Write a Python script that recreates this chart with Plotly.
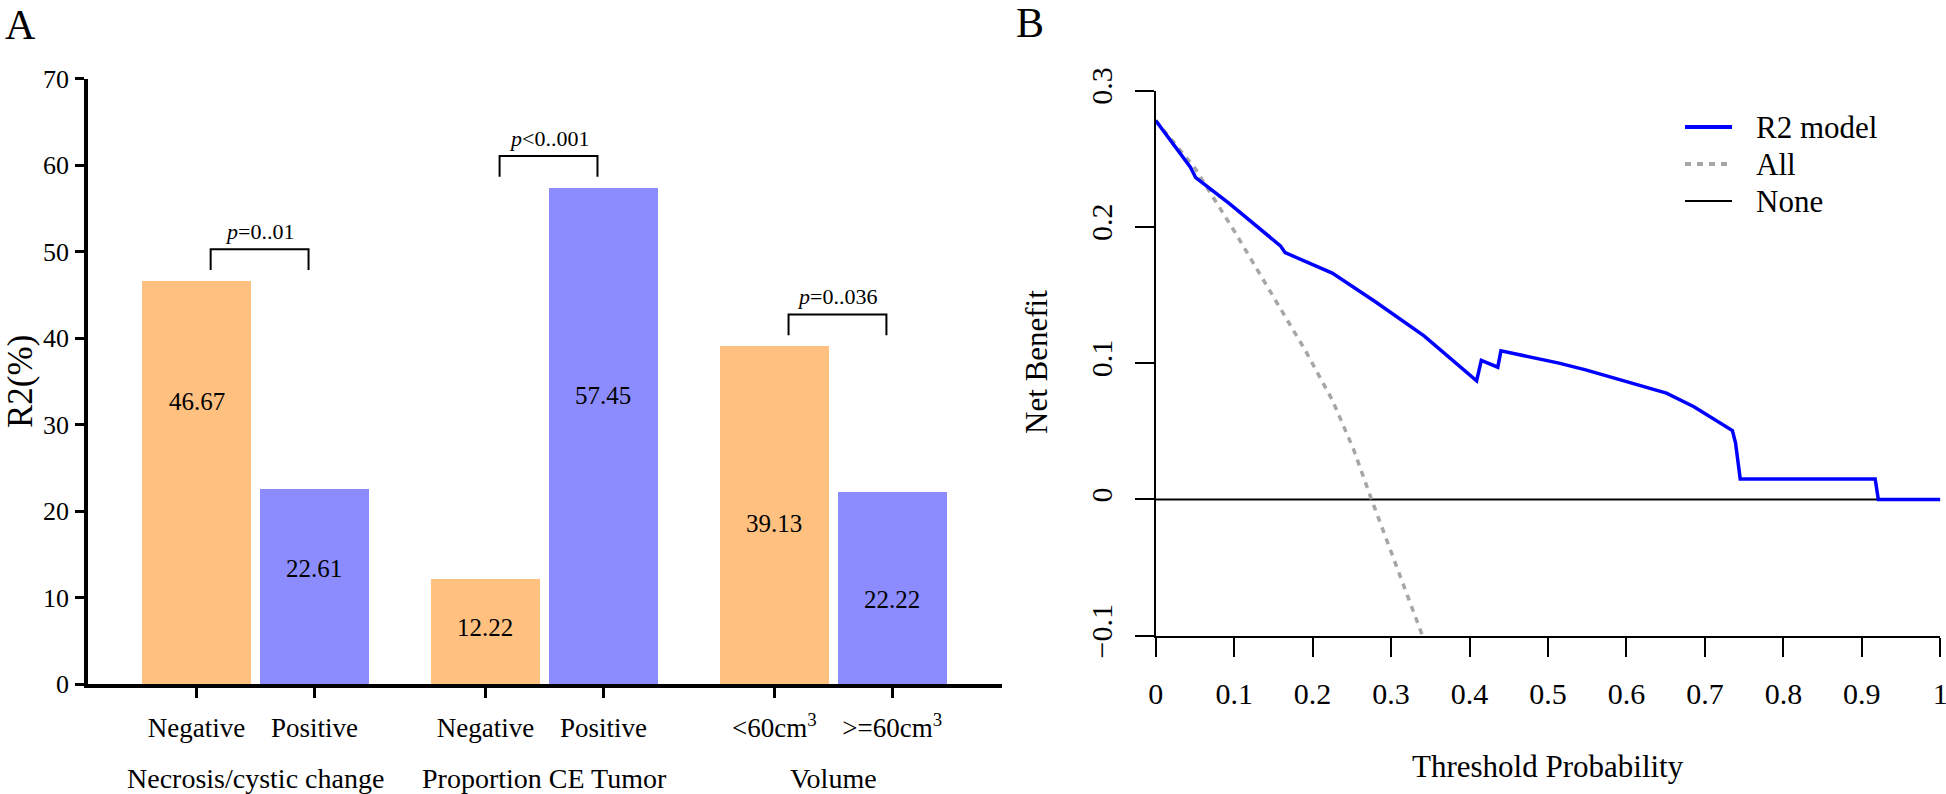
import plotly.graph_objects as go

# ---------------- Panel A data ----------------
groups = ["Necrosis/cystic change", "Proportion CE Tumor", "Volume"]
sub_labels_left = ["Negative", "Negative", "<60cm<sup>3</sup>"]
sub_labels_right = ["Positive", "Positive", ">=60cm<sup>3</sup>"]
values_left = [46.67, 12.22, 39.13]
values_right = [22.61, 57.45, 22.22]
p_texts = ["<i>p</i>=0..01", "<i>p</i><0..001", "<i>p</i>=0..036"]

# ---------------- Panel B data ----------------
r2_x = [0, 0.044, 0.051, 0.094, 0.159, 0.165, 0.225, 0.28, 0.342, 0.409, 0.415, 0.436, 0.440,
        0.514, 0.548, 0.617, 0.651, 0.686, 0.713, 0.735, 0.739, 0.745, 0.917, 0.921, 1.0]
r2_y = [0.278, 0.244, 0.236, 0.217, 0.186, 0.181, 0.166, 0.145, 0.120, 0.087, 0.102, 0.097, 0.109,
        0.100, 0.095, 0.084, 0.078, 0.068, 0.0586, 0.0505, 0.0415, 0.015, 0.015, 0.0, 0.0]
all_x = [0, 0.05, 0.1, 0.15, 0.19, 0.225, 0.252, 0.275, 0.305, 0.34]
all_y = [0.278, 0.243, 0.197, 0.149, 0.110, 0.073, 0.037, 0.0, -0.046, -0.1]
none_x = [0, 1]
none_y = [0, 0]
xb_ticks = [0, 0.1, 0.2, 0.3, 0.4, 0.5, 0.6, 0.7, 0.8, 0.9, 1]
yb_ticks = [-0.1, 0, 0.1, 0.2, 0.3]
legend_names = ["R2 model", "All", "None"]

# ---------------- styling ----------------
FONT = "Liberation Serif"
ORANGE = "#FFC080"
PURPLE = "#8C8CFF"
BLUE = "#0000FF"
GRAY = "#A6A6A6"
W, H = 1946, 794
GROUP_GAP = 2.45
BAR_W = 0.92
label_frac_left = [0.70, 0.53, 0.475]
label_frac_right = [0.59, 0.58, 0.44]


def px_x(v):
    return v / W


def px_y(v):
    return 1 - v / H


x_left = [g * GROUP_GAP for g in range(len(groups))]
x_right = [g * GROUP_GAP + 1 for g in range(len(groups))]

fig = go.Figure()
fig.add_trace(go.Bar(x=x_left, y=values_left, width=BAR_W, marker=dict(color=ORANGE, line=dict(width=0)),
                     showlegend=False, xaxis="x", yaxis="y"))
fig.add_trace(go.Bar(x=x_right, y=values_right, width=BAR_W, marker=dict(color=PURPLE, line=dict(width=0)),
                     showlegend=False, xaxis="x", yaxis="y"))

annotations = []
shapes = []
for i in range(len(groups)):
    annotations.append(dict(x=x_left[i], y=values_left[i] * label_frac_left[i], xref="x", yref="y",
                            xanchor="center", yanchor="middle",
                            text=f"{values_left[i]:.2f}", showarrow=False,
                            font=dict(family=FONT, size=25, color="black")))
    annotations.append(dict(x=x_right[i], y=values_right[i] * label_frac_right[i], xref="x", yref="y",
                            xanchor="center", yanchor="middle",
                            text=f"{values_right[i]:.2f}", showarrow=False,
                            font=dict(family=FONT, size=25, color="black")))
    top = max(values_left[i], values_right[i]) + 3.6
    leg = max(values_left[i], values_right[i]) + 1.2
    xl = x_left[i] + 0.12
    xr = x_left[i] + 0.95
    shapes.append(dict(type="path", xref="x", yref="y",
                       path=f"M {xl},{leg} L {xl},{top} L {xr},{top} L {xr},{leg}",
                       line=dict(color="black", width=2)))
    annotations.append(dict(x=(xl + xr) / 2, y=top + 0.4, xref="x", yref="y",
                            xanchor="center", yanchor="bottom",
                            text=p_texts[i], showarrow=False,
                            font=dict(family=FONT, size=22, color="black")))
    annotations.append(dict(x=(x_left[i] + x_right[i]) / 2, y=px_y(778), xref="x", yref="paper",
                            xanchor="center", yanchor="middle",
                            text=groups[i], showarrow=False,
                            font=dict(family=FONT, size=28, color="black")))

# Panel B traces
fig.add_trace(go.Scatter(x=none_x, y=none_y, mode="lines", name=legend_names[2], showlegend=False,
                         line=dict(color="black", width=2), xaxis="x2", yaxis="y2"))
fig.add_trace(go.Scatter(x=all_x, y=all_y, mode="lines", name=legend_names[1], showlegend=False,
                         line=dict(color=GRAY, width=3.5, dash="6px,6px"), xaxis="x2", yaxis="y2"))
fig.add_trace(go.Scatter(x=r2_x, y=r2_y, mode="lines", name=legend_names[0], showlegend=False,
                         line=dict(color=BLUE, width=3.5), xaxis="x2", yaxis="y2"))

# Manual legend (long line samples like the reference)
legend_styles = [dict(color=BLUE, width=4), dict(color=GRAY, width=4, dash="6px,6px"),
                 dict(color="black", width=2)]
legend_rows = [127, 164, 201]
for name, style, row in zip(legend_names, legend_styles, legend_rows):
    shapes.append(dict(type="line", xref="paper", yref="paper", x0=px_x(1685), x1=px_x(1732),
                       y0=px_y(row), y1=px_y(row), line=style))
    annotations.append(dict(x=px_x(1754), y=px_y(row), xref="paper", yref="paper",
                            xanchor="left", yanchor="middle", text=name, showarrow=False,
                            font=dict(family=FONT, size=31, color="black")))

# Panel labels and axis titles
annotations += [
    dict(x=px_x(20), y=px_y(25), xref="paper", yref="paper", xanchor="center", yanchor="middle",
         text="A", showarrow=False, font=dict(family=FONT, size=42, color="black")),
    dict(x=px_x(1030), y=px_y(23), xref="paper", yref="paper", xanchor="center", yanchor="middle",
         text="B", showarrow=False, font=dict(family=FONT, size=42, color="black")),
    dict(x=px_x(21), y=px_y(382), xref="paper", yref="paper", xanchor="center", yanchor="middle",
         textangle=-90, text="R2(%)", showarrow=False, font=dict(family=FONT, size=35, color="black")),
    dict(x=px_x(1036), y=px_y(362), xref="paper", yref="paper", xanchor="center", yanchor="middle",
         textangle=-90, text="Net Benefit", showarrow=False, font=dict(family=FONT, size=31, color="black")),
    dict(x=px_x(1548), y=px_y(766), xref="paper", yref="paper", xanchor="center", yanchor="middle",
         text="Threshold Probability", showarrow=False, font=dict(family=FONT, size=31, color="black")),
]

axis_common = dict(showgrid=False, zeroline=False, automargin=False, fixedrange=True,
                   linecolor="black", tickcolor="black")

fig.update_layout(
    template="none",
    width=W, height=H,
    margin=dict(l=0, r=0, t=0, b=0, pad=0, autoexpand=False),
    paper_bgcolor="white", plot_bgcolor="white",
    font=dict(family=FONT, color="black"),
    bargap=0,
    showlegend=False,
    annotations=annotations,
    shapes=shapes,
    xaxis=dict(domain=[px_x(88), px_x(1002)], range=[-0.92, 2 * GROUP_GAP + 1 + 0.93],
               tickvals=x_left + x_right, ticktext=sub_labels_left + sub_labels_right,
               showline=True, linewidth=3.5, ticks="outside", ticklen=10, tickwidth=3,
               tickfont=dict(family=FONT, size=27, color="black"), ticklabelstandoff=7,
               anchor="y", **axis_common),
    yaxis=dict(domain=[px_y(684), px_y(78.6)], range=[0, 70], dtick=10, tick0=0,
               showline=True, linewidth=3.5, ticks="outside", ticklen=9, tickwidth=3,
               tickfont=dict(family=FONT, size=26, color="black"), ticklabelstandoff=1,
               anchor="x", **axis_common),
    xaxis2=dict(domain=[px_x(1155.7), px_x(1940.3)], range=[0, 1], tickvals=xb_ticks,
                showline=True, linewidth=2, ticks="outside", ticklen=19, tickwidth=1.8,
                tickfont=dict(family=FONT, size=30, color="black"), ticklabelstandoff=11,
                ticklabeloverflow="allow", anchor="y2", **axis_common),
    yaxis2=dict(domain=[px_y(635.7), px_y(90.5)], range=[-0.1, 0.3], tickvals=yb_ticks,
                showline=True, linewidth=2, ticks="outside", ticklen=19, tickwidth=1.8,
                tickangle=-90, tickfont=dict(family=FONT, size=30, color="black"),
                ticklabelstandoff=11, ticklabeloverflow="allow", anchor="x2", **axis_common),
)

fig.write_html("out.html", config={"displayModeBar": False},
               post_script="document.body.style.margin='0px';document.body.style.overflow='hidden';")
